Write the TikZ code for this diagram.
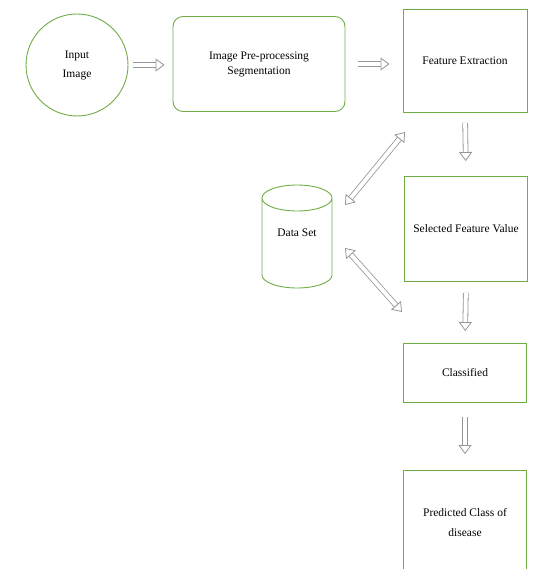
\documentclass[tikz,border=0pt]{standalone}
\usepackage{fontspec}
\setmainfont{Liberation Serif}
\usetikzlibrary{arrows.meta}
\definecolor{leaf}{RGB}{112,173,71}
\definecolor{hollow}{RGB}{150,150,150}
\tikzstyle{stage}=[rectangle,draw=leaf,line width=0.9pt,inner sep=2pt,align=center,font=\fontsize{11.5}{13}\selectfont]
\tikzset{hollowtip/.tip={Triangle[length=9pt,width=13pt,line width=0.8pt,fill=white]}}
\tikzstyle{flow}=[draw=hollow,line width=0.8pt,double=white,double distance=4pt,-hollowtip]

\begin{document}
\begin{tikzpicture}[x=1pt,y=-1pt]
\useasboundingbox (0,0) rectangle (558,569);
\clip (0,0) rectangle (558,569);
\node[stage,circle,minimum size=102pt] (A) at (77,65) {Input\\[6pt]Image};
\node[stage,rounded corners=10pt,minimum width=172pt,minimum height=95pt] (B) at (259,64) {Image Pre-processing\\[2pt]Segmentation};
\node[stage,minimum width=124pt,minimum height=103pt] (C) at (465,61) {Feature Extraction};
\node[stage,minimum width=123pt,minimum height=105pt] (D) at (466,229) {Selected Feature Value};
\node[stage,minimum width=123pt,minimum height=59pt] (E) at (465,373) {Classified};
\node[stage,minimum width=123pt,minimum height=105pt] (G) at (465,523) {Predicted Class of\\[7pt]disease};
\node[font=\fontsize{11.5}{13}\selectfont] (F) at (297,233) {Data Set};
\draw[leaf,line width=0.9pt] (297,198) ellipse [x radius=35pt,y radius=13pt]
    (262,198) -- (262,275) arc [start angle=180,end angle=360,x radius=35pt,y radius=13pt] -- (332,198);
\coordinate (u1) at (345,205);
\coordinate (u2) at (405,132);
\coordinate (l1) at (345,248);
\coordinate (l2) at (402,312);
\draw[flow,shorten <=5pt,shorten >=8pt] (A.east) -- (A.east -| B.west);
\draw[flow,shorten <=13pt,shorten >=13pt] (B.east) -- (B.east -| C.west);
\draw[flow,shorten <=10pt,shorten >=15pt] (C.south) -- (D.north);
\draw[flow,shorten <=11pt,shorten >=12pt] (D.south) -- (E.north);
\draw[flow,shorten <=14pt,shorten >=16pt] (E.south) -- (G.north);
\draw[flow,hollowtip-hollowtip] (u1) -- (u2);
\draw[flow,hollowtip-hollowtip] (l1) -- (l2);
\end{tikzpicture}
\end{document}
